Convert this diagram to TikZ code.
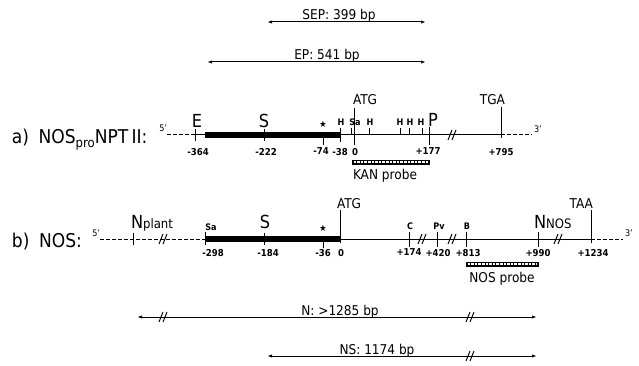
\documentclass[tikz,border=0pt]{standalone}
\usepackage{fontspec}
\setmainfont{DejaVu Sans Condensed}
\usetikzlibrary{arrows.meta}
\newcommand{\fs}[1]{\fontsize{#1pt}{#1pt}\selectfont}
\tikzset{
 ln/.style={line width=1pt},
 dsh/.style={line width=1pt,dash pattern=on 3.5pt off 2.5pt},
 thickbar/.style={line width=5.5pt},
 dimline/.style={line width=1pt,{Latex[length=5pt,width=3.2pt]}-{Latex[length=5pt,width=3.2pt]}},
 t/.style={inner sep=0pt,outer sep=0pt},
 num/.style={t,font=\fs{9.5}\bfseries,anchor=north},
 sml/.style={t,font=\fs{9}\bfseries,anchor=base},
 big/.style={t,font=\fs{18},anchor=base},
 med/.style={t,font=\fs{13.5},anchor=base},
 brk/.pic={\draw[ln] (-4,5)--(0,-5) (0,5)--(4,-5);},
 probebar/.style={fill=black,draw=black,line width=0.5pt},
 probedash/.style={white,line width=1.6pt,dash pattern=on 2.6pt off 1pt}
}
\begin{document}
\begin{tikzpicture}[x=1pt,y=-1pt]
\useasboundingbox (0,0) rectangle (639,366);

% ---------- dimension arrows top ----------
\coordinate (sepL) at (267,22); \coordinate (sepR) at (426,22);
\draw[dimline] (sepL) -- (sepR);
\node[med] (sep) at (339,20) {SEP: 399 bp};
\coordinate (epL) at (207,62); \coordinate (epR) at (426,62);
\draw[dimline] (epL) -- (epR);
\node[med] (ep) at (327,60) {EP: 541 bp};

% ---------- line a ----------
\node[t,font=\fs{19},anchor=base west] (alab) at (12,144) {a)\hspace{0.5em}NOS\raisebox{-3.5pt}{\fs{13}pro}NPT\,II:};
\node[t,font=\fs{9},anchor=base east] (a5) at (167,132) {5'};
\coordinate (a0) at (167,135);
\coordinate (aE) at (195,135);
\coordinate (aB) at (205,135);
\coordinate (aH) at (340,135);
\coordinate (aT) at (501,135);
\coordinate (a3) at (532,135);
\draw[dsh] (a0) -- (aE);
\draw[ln] (aE) -- (aB);
\draw[thickbar] (aB) -- (aH);
\draw[ln] (aH) -- (aT);
\draw[dsh] (aT) -- (a3);
\node[t,font=\fs{9},anchor=base west] (a3l) at (534,133) {3'};
% ticks
\draw[ln] (195,129) -- (195,141);
\draw[ln] (264,129) -- (264,141);
\draw[ln] (323,135) -- (323,145);
\draw[ln] (340,128) -- (340,142);
\draw[ln] (351,128) -- (351,135);
\draw[ln] (369,128) -- (369,135);
\draw[ln] (400,128) -- (400,135);
\draw[ln] (409,128) -- (409,135);
\draw[ln] (422,128) -- (422,135);
\draw[ln] (429,127) -- (429,145);
\draw[ln] (354,108) -- (354,145);
\draw[ln] (501,107) -- (501,138);
\pic at (452,135) {brk};
% labels above
\node[big] (aEl) at (197,128) {E};
\node[big] (aSl) at (264,128) {S};
\node[t,font=\fs{9}] (astar) at (323,124) {★};
\node[sml] (h1) at (341,126) {H};
\node[sml] (sa1) at (355,126) {Sa};
\node[sml] (h2) at (370,126) {H};
\node[sml] (h3) at (400,126) {H};
\node[sml] (h4) at (410,126) {H};
\node[sml] (h5) at (421,126) {H};
\node[big,anchor=base west] (aP) at (428,127) {P};
\node[med,anchor=base west] (aATG) at (353,105) {ATG};
\node[med,anchor=base east] (aTGA) at (505,105) {TGA};
% numbers
\node[num] at (198,148) {-364};
\node[num] at (266,148) {-222};
\node[num] at (321,148) {-74};
\node[num] at (340,148) {-38};
\node[num] at (355,148) {0};
\node[num] at (428,148) {+177};
\node[num] at (501,148) {+795};
% KAN probe
\draw[probebar] (352,160) rectangle (429,164);
\draw[probedash] (353.5,162) -- (427.5,162);
\node[med] (kan) at (385,179) {KAN probe};

% ---------- line b ----------
\node[t,font=\fs{19},anchor=base west] (blab) at (12,247) {b)\hspace{0.5em}NOS:};
\node[t,font=\fs{9},anchor=base east] (b5) at (100,236) {5'};
\coordinate (b0) at (100,239);
\coordinate (bB) at (205,239);
\coordinate (bA) at (340,239);
\coordinate (bT) at (591,239);
\coordinate (b3) at (623,239);
\draw[dsh] (b0) -- (bB);
\draw[thickbar] (bB) -- (bA);
\draw[ln] (bA) -- (bT);
\draw[dsh] (bT) -- (b3);
\node[t,font=\fs{9},anchor=base west] (b3l) at (625,236) {3'};
% ticks
\draw[ln] (133,233) -- (133,245);
\draw[ln] (205,232) -- (205,245);
\draw[ln] (264,233) -- (264,245);
\draw[ln] (323,239) -- (323,248);
\draw[ln] (340,210) -- (340,243);
\draw[ln] (409,232) -- (409,247);
\draw[ln] (437,232) -- (437,247);
\draw[ln] (466,232) -- (466,247);
\draw[ln] (538,232) -- (538,247);
\draw[ln] (591,210) -- (591,243);
\pic at (163,239) {brk};
\pic at (422,239) {brk};
\pic at (452,239) {brk};
\pic at (558,239) {brk};
% labels above
\node[big,anchor=base west] (bN) at (131,228) {N\fs{13}plant};
\node[sml] (bsa) at (211,230) {Sa};
\node[big] (bSl) at (265,228) {S};
\node[t,font=\fs{9}] (bstar) at (323,228) {★};
\node[med,anchor=base west] (bATG) at (337,208) {ATG};
\node[sml] (bC) at (410,229) {C};
\node[sml] (bPv) at (439,229) {Pv};
\node[sml] (bBl) at (467,229) {B};
\node[big,anchor=base west] (bNN) at (534,228) {N\fs{13}NOS};
\node[med,anchor=base east] (bTAA) at (593,208) {TAA};
% numbers
\node[num] at (213,249) {-298};
\node[num] at (268,249) {-184};
\node[num] at (323,249) {-36};
\node[num] at (341,249) {0};
\node[num] at (409,249) {+174};
\node[num] at (438,249) {+420};
\node[num] at (468,249) {+813};
\node[num] at (538,249) {+990};
\node[num] at (593,249) {+1234};
% NOS probe
\draw[probebar] (466,262) rectangle (538,266);
\draw[probedash] (467.5,264) -- (536.5,264);
\node[med] (nosp) at (502,282) {NOS probe};

% ---------- dimension arrows bottom ----------
\coordinate (nL) at (137,317); \coordinate (nR) at (537,317);
\draw[dimline] (nL) -- (nR);
\pic at (163,317) {brk};
\pic at (470,317) {brk};
\node[med] (nlab) at (340,315) {N: >1285 bp};
\coordinate (nsL) at (267,356); \coordinate (nsR) at (537,356);
\draw[dimline] (nsL) -- (nsR);
\pic at (470,356) {brk};
\node[med] (nslab) at (377,354) {NS: 1174 bp};
\end{tikzpicture}
\end{document}
